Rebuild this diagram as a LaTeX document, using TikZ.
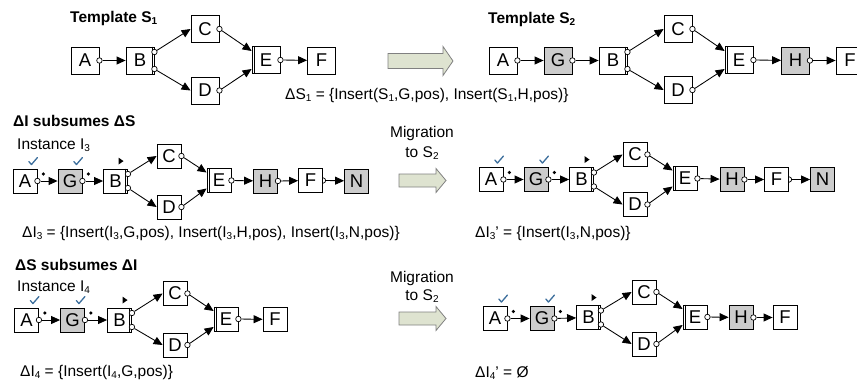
\documentclass[tikz,border=0pt]{standalone}
\usepackage{fontspec}
\setmainfont{Liberation Sans}
\usetikzlibrary{arrows.meta}

\definecolor{actgray}{HTML}{CCCCCC}
\definecolor{arrowfill}{HTML}{DEE3D0}
\definecolor{arrowline}{HTML}{808080}
\definecolor{tickblue}{HTML}{3C6E9C}

% lowered index digit
\newcommand\lowidx[1]{\raisebox{-0.3ex}{\fontsize{10}{10}\selectfont#1}}

\tikzset{
  x=1pt, y=-1pt,
  act/.style={draw, line width=0.85pt, fill=white, minimum width=28pt,
    minimum height=27pt, inner sep=0pt, font=\fontsize{18.5}{18.5}\selectfont},
  actsm/.style={act, minimum width=24pt, minimum height=24pt},
  added/.style={fill=actgray},
  port/.style={circle, draw, fill=white, line width=0.7pt, inner sep=0pt, minimum size=5.5pt},
  flow/.style={line width=0.85pt, -{Triangle[length=9pt,width=8pt]}},
  bar/.style={line width=0.7pt},
  txt/.style={anchor=base west, inner sep=0pt, font=\fontsize{15.5}{18}\selectfont},
  heading/.style={txt, font=\fontsize{15.5}{18}\selectfont\bfseries},
  midtxt/.style={anchor=base, inner sep=0pt, font=\fontsize{15.5}{18}\selectfont},
  done/.style={draw=tickblue, line width=1.3pt, line cap=round, line join=round},
  token/.style={circle, fill=black, inner sep=0pt, minimum size=3.6pt},
  migrate/.style={draw=arrowline, fill=arrowfill, line width=0.8pt},
}

% port on the right of #1 and a flow edge to #2
\newcommand\flowlink[2]{%
  \node[port] (#1-o) at (#1.east) {};
  \draw[flow] (#1-o) -- (#2);}
% half port (open end) on the right of #1 and a flow edge to #2
\newcommand\halflink[2]{%
  \draw[line width=0.7pt] ([yshift=2.75pt]#1.east) arc[start angle=90, end angle=-90, radius=2.75pt];
  \coordinate (#1-o) at ([xshift=2.75pt]#1.east);
  \draw[flow] (#1-o) -- (#2);}
% AND split at B, AND join at E, with branches C and D
\newcommand\splitjoin[2]{%
  \draw[bar] ([xshift=-2.5pt]B.north east) -- ([xshift=-2.5pt]B.south east);
  \draw[bar] ([xshift=3pt]E.north west) -- ([xshift=3pt]E.south west);
  \node[port] (B-o1) at ([yshift=#1]B.east) {};
  \node[port] (B-o2) at ([yshift=-#1]B.east) {};
  \node[port] (C-o) at (C.east) {};
  \node[port] (D-o) at (D.east) {};
  \coordinate (E-i1) at ([yshift=#2]E.west);
  \coordinate (E-i2) at ([yshift=-#2]E.west);
  \draw[flow] (B-o1) -- (C.west);
  \draw[flow] (B-o2) -- (D.west);
  \draw[flow] (C-o) -- (E-i1);
  \draw[flow] (D-o) -- (E-i2);}
% completed activity mark above #1
\newcommand\donemark[1]{%
  \draw[done] ([xshift=-8.5pt,yshift=7pt]#1.north east) -- ++(2.5,3) -- ++(6,-7);}
% token on the outgoing edge of #1
\newcommand\token[1]{\node[token] (#1-tok) at ([xshift=6pt,yshift=7pt]#1.east) {};}
% enabled marker above #1
\newcommand\enabled[1]{%
  \fill ([xshift=3pt,yshift=4pt]#1.north) -- ++(5,-3.5) -- ++(-5,-3.5) -- cycle;}
% block arrow: x0, x1, y centre, body half height, head half height
\newcommand\migrationarrow[5]{%
  \draw[migrate] (#1,#3-#4) -- (#2-10,#3-#4) -- (#2-10,#3-#5) -- (#2,#3)
    -- (#2-10,#3+#5) -- (#2-10,#3+#4) -- (#1,#3+#4) -- cycle;}

\begin{document}
\begin{tikzpicture}
\useasboundingbox (0,0) rectangle (857,383);

% ---------------- Template S1 ----------------
\begin{scope}[name prefix=s1-]
  \node[heading] (title) at (70,22) {Template S\lowidx{1}};
  \node[act] (A) at (85,60.5) {A};
  \node[act] (B) at (140,60.5) {B};
  \node[act] (C) at (205,29) {C};
  \node[act] (D) at (205,90.5) {D};
  \node[act] (E) at (266,60) {E};
  \node[act] (F) at (321.5,60.5) {F};
  \flowlink{A}{B}
  \splitjoin{8.5pt}{9pt}
  \flowlink{E}{F}
\end{scope}

\migrationarrow{388}{453}{61}{7.5}{14.5}
\node[txt] (dS) at (285,99) {ΔS\lowidx{1} = \{Insert(S\lowidx{1},G,pos), Insert(S\lowidx{1},H,pos)\}};

% ---------------- Template S2 ----------------
\begin{scope}[name prefix=s2-]
  \node[heading] (title) at (488,23) {Template S\lowidx{2}};
  \node[act] (A) at (503,60.5) {A};
  \node[act,added] (G) at (558,60.5) {G};
  \node[act] (B) at (613,60.5) {B};
  \node[act] (C) at (678,29) {C};
  \node[act] (D) at (678,90) {D};
  \node[act] (E) at (739,60) {E};
  \node[act,added] (H) at (795.5,60.5) {H};
  \node[act] (F) at (850,60.5) {F};
  \flowlink{A}{G}
  \flowlink{G}{B}
  \splitjoin{8.5pt}{9pt}
  \flowlink{E}{H}
  \flowlink{H}{F}
\end{scope}

% ---------------- Delta I subsumes Delta S ----------------
\node[heading] (case1) at (13,126) {ΔI subsumes ΔS};
\begin{scope}[name prefix=i3-]
  \node[txt] (title) at (17,149) {Instance I\lowidx{3}};
  \node[actsm] (A) at (25,181) {A};
  \node[actsm,added] (G) at (70,181) {G};
  \node[actsm] (B) at (115.5,181) {B};
  \node[actsm] (C) at (169,156) {C};
  \node[actsm] (D) at (169,207) {D};
  \node[actsm] (E) at (219,180.5) {E};
  \node[actsm,added] (H) at (265.5,181) {H};
  \node[actsm] (F) at (310.5,180.5) {F};
  \node[actsm,added] (N) at (356.5,181) {N};
  \flowlink{A}{G}
  \flowlink{G}{B}
  \splitjoin{7pt}{8pt}
  \flowlink{E}{H}
  \flowlink{H}{F}
  \halflink{F}{N}
  \donemark{A}\donemark{G}
  \token{A}\token{G}
  \enabled{B}
\end{scope}
\node[txt] (dI3) at (22,237) {ΔI\lowidx{3} = \{Insert(I\lowidx{3},G,pos), Insert(I\lowidx{3},H,pos), Insert(I\lowidx{3},N,pos)\}};

\node[midtxt] (mig1a) at (422,137) {Migration};
\node[midtxt] (mig1b) at (422,157) {to S\lowidx{2}};
\migrationarrow{399}{446}{180.5}{6.5}{12}

\begin{scope}[name prefix=i3m-]
  \node[actsm] (A) at (491,179.5) {A};
  \node[actsm,added] (G) at (536,179.5) {G};
  \node[actsm] (B) at (581.5,179.5) {B};
  \node[actsm] (C) at (635,154.5) {C};
  \node[actsm] (D) at (635,204.5) {D};
  \node[actsm] (E) at (685,178.5) {E};
  \node[actsm,added] (H) at (732,179.5) {H};
  \node[actsm] (F) at (776.5,179.5) {F};
  \node[actsm,added] (N) at (822.5,179.5) {N};
  \flowlink{A}{G}
  \flowlink{G}{B}
  \splitjoin{7pt}{8pt}
  \flowlink{E}{H}
  \flowlink{H}{F}
  \halflink{F}{N}
  \donemark{A}\donemark{G}
  \token{A}\token{G}
  \enabled{B}
\end{scope}
\node[txt] (dI3m) at (475,237) {ΔI\lowidx{3}’ = \{Insert(I\lowidx{3},N,pos)\}};

% ---------------- Delta S subsumes Delta I ----------------
\node[heading] (case2) at (15,270) {ΔS subsumes ΔI};
\begin{scope}[name prefix=i4-]
  \node[txt] (title) at (17,291) {Instance I\lowidx{4}};
  \node[actsm] (A) at (26.5,320) {A};
  \node[actsm,added] (G) at (72.5,320) {G};
  \node[actsm] (B) at (119.5,320) {B};
  \node[actsm] (C) at (175,293.5) {C};
  \node[actsm] (D) at (175,345) {D};
  \node[actsm] (E) at (226,319) {E};
  \node[actsm] (F) at (275,319.5) {F};
  \flowlink{A}{G}
  \flowlink{G}{B}
  \splitjoin{7pt}{8pt}
  \flowlink{E}{F}
  \donemark{A}\donemark{G}
  \token{A}\token{G}
  \enabled{B}
\end{scope}
\node[txt] (dI4) at (20,376) {ΔI\lowidx{4} = \{Insert(I\lowidx{4},G,pos)\}};

\node[midtxt] (mig2a) at (422,282.5) {Migration};
\node[midtxt] (mig2b) at (422,300) {to S\lowidx{2}};
\migrationarrow{399}{446}{318.5}{6.5}{12}

\begin{scope}[name prefix=i4m-]
  \node[actsm] (A) at (495,318.5) {A};
  \node[actsm,added] (G) at (542,318.5) {G};
  \node[actsm] (B) at (588.5,317.5) {B};
  \node[actsm] (C) at (644,292) {C};
  \node[actsm] (D) at (644,344) {D};
  \node[actsm] (E) at (695,317) {E};
  \node[actsm,added] (H) at (741,317.5) {H};
  \node[actsm] (F) at (785,317.5) {F};
  \flowlink{A}{G}
  \flowlink{G}{B}
  \splitjoin{7pt}{8pt}
  \flowlink{E}{H}
  \flowlink{H}{F}
  \donemark{A}\donemark{G}
  \token{A}\token{G}
  \enabled{B}
\end{scope}
\node[txt] (dI4m) at (475,377) {ΔI\lowidx{4}’ = Ø};
\end{tikzpicture}
\end{document}
